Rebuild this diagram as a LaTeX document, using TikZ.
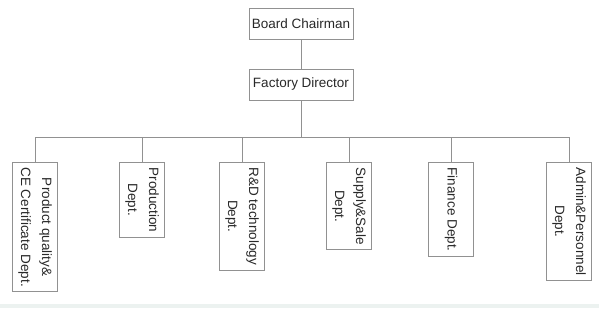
\documentclass[tikz,border=0pt]{standalone}
\usepackage{fontspec}
\setmainfont{Liberation Sans}
\definecolor{linegray}{RGB}{145,145,145}
\definecolor{textgray}{RGB}{40,40,40}
\definecolor{bandgray}{RGB}{236,242,240}
\begin{document}
\begin{tikzpicture}[x=1pt, y=-1pt,
  link/.style={draw=linegray, line width=0.9pt},
  topbox/.style={rectangle, draw=linegray, line width=1pt, text=textgray,
    minimum width=104pt, minimum height=31pt, inner sep=2pt,
    font=\fontsize{13.5}{21}\selectfont},
  deptbox/.style={rectangle, draw=linegray, line width=1pt, text=textgray,
    rotate=-90, anchor=west, align=center, minimum height=45pt,
    inner xsep=5pt, inner ysep=2pt,
    font=\fontsize{13.5}{21}\selectfont}]
  \useasboundingbox (0,0) rectangle (599,308);
  \fill[bandgray] (0,304) rectangle (599,308);
  \node[topbox] (chair) at (301,23.5) {Board Chairman};
  \node[topbox] (director) at (301,84.5) {Factory Director};
  \coordinate (bus) at (301,137);
  \node[deptbox] (quality) at (35,162) {Product quality\&\\CE Certificate Dept.};
  \node[deptbox] (production) at (142,162) {Production\\Dept.};
  \node[deptbox] (research) at (242,162) {R\&D technology\\Dept.};
  \node[deptbox] (supply) at (349,162) {Supply\&Sale\\Dept.};
  \node[deptbox] (finance) at (451,162) {Finance Dept.};
  \node[deptbox] (admin) at (569,162) {Admin\&Personnel\\Dept.};
  \draw[link] (chair) -- (director);
  \draw[link] (director) -- (bus);
  \foreach \dept in {quality,production,research,supply,finance,admin}
    \draw[link] (bus) -| (\dept.west);
\end{tikzpicture}
\end{document}
